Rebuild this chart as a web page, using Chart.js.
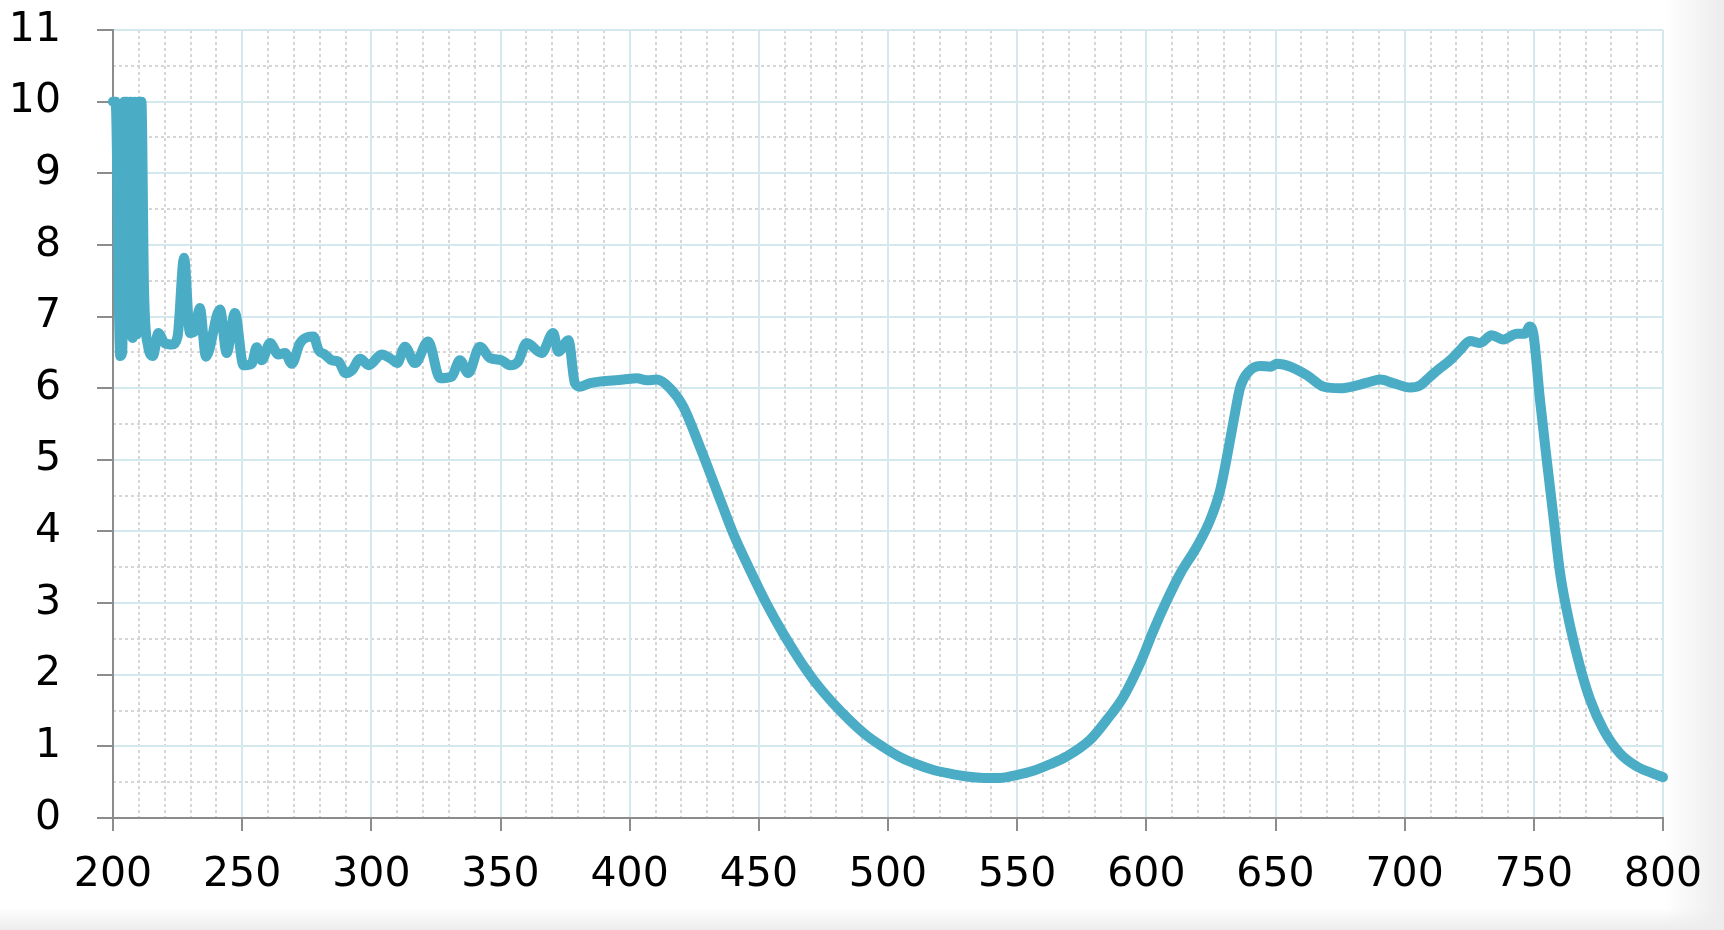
<!DOCTYPE html>
<html>
<head>
<meta charset="utf-8">
<script src="https://cdn.jsdelivr.net/npm/chart.js@4.4.0/dist/chart.umd.min.js"></script>
<style>
    html, body { margin: 0; padding: 0; }
    body {
        width: 1724px;
        height: 930px;
        overflow: hidden;
        background:
            linear-gradient(to bottom, rgba(236,236,236,0) 908px, rgba(236,236,236,1) 930px),
            linear-gradient(to right, #ffffff 1664px, #ececec 1724px);
    }
    #wrap { position: relative; width: 1724px; height: 930px; }
</style>
</head>
<body>
<div id="wrap"><canvas id="chart"></canvas></div>
<script>
// --- Data ---
const wavelengths = [
    200, 201, 202.8, 203.6, 204.4, 205.4, 206, 206.8, 207.6, 208.4,
    209.2, 210, 211, 212, 213.5,
    215.5, 217.5, 220, 223, 225, 227.5, 229.8, 231.7, 233.6, 236,
    241.4, 244, 247.2, 250.5, 253.7, 255.6, 257.6, 260.8, 264, 266.6,
    269.2, 272.4, 277.6, 279.6, 282, 284.7, 287.3, 290, 292.5, 295.7,
    299, 304, 308, 310, 313, 316.9, 322, 326.6, 331, 334.3,
    337.5, 342, 345.9, 350.4, 353.6, 356.8, 360.1, 365.9, 370.4, 372.4,
    376.3, 378.8, 380.8, 384.7, 397.6, 402.8, 406.6, 410.5, 415.6, 420.8,
    427.2, 433.7, 440.1, 446.6, 453, 459.5, 465.9, 472.4, 478.8, 485.3,
    491.8, 498.2, 504.7, 511.1, 517.6, 524, 530.5, 536.9, 543.4, 549.8,
    556.3, 562.7, 569.2, 578.2, 584.7, 591.1, 597.6, 602.8, 608, 613.1,
    619.6, 624.7, 628.6, 631.2, 633.8, 636.4, 639.6, 644.1, 648, 650.6,
    655.8, 662.2, 668.7, 675.1, 681.6, 686.6, 690.5, 695.6, 702.1, 706,
    709.8, 713.7, 717.6, 721.4, 725.3, 729.2, 733.7, 738.2, 743.4, 746.6,
    748.3, 749.8, 752.4, 755, 757.6, 760.2, 764.1, 767.9, 771.8, 777,
    783.4, 789.9, 796.3, 800
];
const absorbance = [
    10, 10, 6.45, 6.5, 10, 10, 6.75, 10, 6.7, 10,
    6.75, 10, 10, 7.4, 6.6,
    6.45, 6.77, 6.63, 6.61, 6.72, 7.82, 6.77, 6.8, 7.12, 6.44,
    7.1, 6.49, 7.05, 6.32, 6.34, 6.57, 6.39, 6.63, 6.47, 6.49,
    6.34, 6.63, 6.72, 6.53, 6.47, 6.39, 6.37, 6.21, 6.25, 6.41,
    6.32, 6.47, 6.4, 6.35, 6.58, 6.35, 6.65, 6.14, 6.16, 6.39,
    6.21, 6.58, 6.42, 6.39, 6.32, 6.37, 6.63, 6.49, 6.77, 6.51,
    6.67, 6.07, 6.02, 6.07, 6.12, 6.14, 6.11, 6.12, 6.0, 5.74,
    5.18, 4.57, 3.97, 3.46, 2.99, 2.57, 2.2, 1.87, 1.6, 1.36,
    1.15, 0.99, 0.85, 0.75, 0.67, 0.62, 0.58, 0.56, 0.56, 0.6,
    0.66, 0.75, 0.86, 1.09, 1.37, 1.69, 2.16, 2.62, 3.04, 3.41,
    3.79, 4.16, 4.58, 5.04, 5.55, 6.02, 6.23, 6.31, 6.3, 6.34,
    6.3, 6.18, 6.02, 6.0, 6.04, 6.09, 6.12, 6.07, 6.01, 6.04,
    6.16, 6.28, 6.39, 6.53, 6.66, 6.63, 6.74, 6.68, 6.76, 6.76,
    6.86, 6.76, 5.83, 5.0, 4.2, 3.41, 2.67, 2.11, 1.65, 1.23,
    0.9, 0.72, 0.62, 0.57
];

// Axis ranges / tick steps
const xRange = [200, 800];
const yRange = [0, 11];
const xMajorStep = 50, xMinorStep = 10;
const yMajorStep = 1, yMinorStep = 0.5;

// --- Styles ---
const lineColor = '#4bacc6';
const axisColor = '#8c8c8c';
const majorGrid = '#d3e9ee';
const minorGrid = '#d6d6d6';
const clear = 'rgba(0,0,0,0)';
const labelFont = { family: 'DejaVu Sans', size: 41 };

const points = wavelengths.map((w, i) => ({ x: w, y: absorbance[i] }));

const ctx = document.getElementById('chart').getContext('2d');
new Chart(ctx, {
    type: 'line',
    data: {
        datasets: [{
            data: points,
            borderColor: lineColor,
            borderWidth: 10,
            pointRadius: 0,
            fill: false,
            cubicInterpolationMode: 'monotone',
            borderJoinStyle: 'round',
            borderCapStyle: 'round',
            clip: false,
            xAxisID: 'x',
            yAxisID: 'y'
        }]
    },
    options: {
        responsive: true,
        maintainAspectRatio: false,
        devicePixelRatio: 1,
        animation: false,
        layout: { padding: { top: 30, right: 61, bottom: 0, left: 0 } },
        plugins: {
            legend: { display: false },
            tooltip: { enabled: false }
        },
        scales: {
            // dotted minor grid (no labels, no space taken)
            xMinor: {
                type: 'linear',
                position: 'bottom',
                min: xRange[0], max: xRange[1],
                ticks: { display: false, stepSize: xMinorStep },
                grid: {
                    color: (c) => (c.tick && c.tick.value % xMajorStep === 0) ? clear : minorGrid,
                    lineWidth: 2,
                    drawTicks: false
                },
                border: { display: false, dash: [3, 3] },
                afterFit: (s) => { s.height = 0; s.paddingLeft = 0; s.paddingRight = 0; }
            },
            yMinor: {
                type: 'linear',
                position: 'left',
                min: yRange[0], max: yRange[1],
                ticks: { display: false, stepSize: yMinorStep },
                grid: {
                    color: (c) => (c.tick && c.tick.value % yMajorStep === 0) ? clear : minorGrid,
                    lineWidth: 2,
                    drawTicks: false
                },
                border: { display: false, dash: [3, 3] },
                afterFit: (s) => { s.width = 0; s.paddingTop = 0; s.paddingBottom = 0; }
            },
            // major axes with labels
            x: {
                type: 'linear',
                position: 'bottom',
                min: xRange[0], max: xRange[1],
                ticks: {
                    stepSize: xMajorStep,
                    font: labelFont,
                    color: '#000000',
                    padding: 20,
                    maxRotation: 0,
                    autoSkip: false
                },
                grid: {
                    color: (c) => (c.tick && c.tick.value === xRange[0]) ? clear : majorGrid,
                    lineWidth: 2,
                    tickLength: 13,
                    tickColor: axisColor,
                    tickWidth: 2
                },
                border: { color: axisColor, width: 2 },
                afterFit: (s) => { s.height = 112; s.paddingLeft = 0; s.paddingRight = 0; }
            },
            y: {
                type: 'linear',
                position: 'left',
                min: yRange[0], max: yRange[1],
                ticks: {
                    stepSize: yMajorStep,
                    font: labelFont,
                    color: '#000000',
                    padding: 36
                },
                grid: {
                    color: (c) => (c.tick && c.tick.value === yRange[0]) ? clear : majorGrid,
                    lineWidth: 2,
                    tickLength: 16,
                    tickColor: axisColor,
                    tickWidth: 2
                },
                border: { color: axisColor, width: 2 },
                afterFit: (s) => { s.width = 113; s.paddingTop = 0; s.paddingBottom = 0; }
            }
        }
    }
});
</script>
</body>
</html>
